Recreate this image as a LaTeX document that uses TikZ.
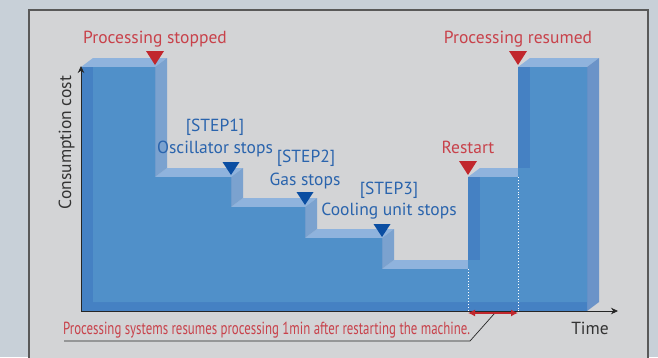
\documentclass[tikz,border=0pt]{standalone}
\usepackage{fontspec}
\usepackage{graphicx}
\setmainfont{PT Sans}
\usetikzlibrary{arrows.meta}
\definecolor{pagebg}{HTML}{C8D0D8}
\definecolor{panelbg}{HTML}{D3D4D6}
\definecolor{frontdark}{HTML}{4581C3}
\definecolor{frontlight}{HTML}{5090C9}
\definecolor{topcol}{HTML}{8FB3DD}
\definecolor{sidecol}{HTML}{7BA2CF}
\definecolor{endcol}{HTML}{6B93C8}
\definecolor{redmk}{HTML}{C1272D}
\definecolor{redtxt}{HTML}{C8424B}
\definecolor{bluemk}{HTML}{0B4EA2}
\definecolor{bluetxt}{HTML}{2A64AD}
\definecolor{darktxt}{HTML}{333333}
\tikzset{
  lbl/.style={font=\fontsize{17.5}{20}\selectfont, inner sep=0pt, anchor=base},
  redlbl/.style={lbl, text=redtxt},
  bluelbl/.style={lbl, text=bluetxt},
  topface/.style={fill=topcol},
  sideface/.style={fill=sidecol},
  axisline/.style={draw=black!85, line width=0.8pt, -{Stealth[length=7pt,width=6.5pt]}},
  redmark/.style={fill=redmk},
  bluemark/.style={fill=bluemk},
  guide/.style={draw=white, dotted, line width=0.9pt},
}
% staircase outline of the front face
\def\profile{(81,311) -- (81,67) -- (155,67) -- (155,177) -- (231,177) -- (231,207) -- (305,207) -- (305,238) -- (382,238) -- (382,269) -- (468,269) -- (468,177) -- (518,177) -- (518,67) -- (587,67) -- (587,311) -- cycle}
\begin{document}
\begin{tikzpicture}[x=1pt, y=-1pt]
  \useasboundingbox (0,0) rectangle (658,357);
  \fill[pagebg] (0,0) rectangle (658,357);
  \draw[fill=panelbg, draw=black!65, line width=1.2pt] (29,10) rectangle (648,370);

  % top faces of every level
  \foreach \a/\b/\y in {81/155/67, 155/231/177, 231/305/207, 305/382/238, 382/468/269, 468/518/177, 518/587/67}
    \fill[topface] (\a,\y) -- (\b,\y) -- ++(12,-9) -- (\a+12,\y-9) -- cycle;
  % right-facing risers
  \foreach \x/\yt/\yb in {155/67/177, 231/177/207, 305/207/238, 382/238/269}
    \fill[sideface] (\x,\yt) -- ++(12,-9) -- (\x+12,\yb-9) -- (\x,\yb) -- cycle;
  \fill[endcol] (587,67) -- (599,58) -- (599,302) -- (587,311) -- cycle;

  % translucent front face with the back face showing through
  \fill[frontdark] \profile;
  \begin{scope}
    \clip \profile;
    \fill[frontlight, shift={(12,-9)}] \profile;
  \end{scope}

  % guides for the restart interval
  \coordinate (rsA) at (468,269);
  \coordinate (rsB) at (468,311);
  \coordinate (rmA) at (518,177);
  \coordinate (rmB) at (518,311);
  \draw[guide] (rsA) -- (rsB);
  \draw[guide] (rmA) -- (rmB);

  % axes
  \coordinate (O) at (81,311);
  \coordinate (Ytop) at (81,66);
  \coordinate (Xend) at (618,311);
  \draw[axisline] (O) -- (Ytop);
  \draw[axisline] (O) -- (Xend);
  \node[lbl, text=darktxt, rotate=90, anchor=base] (ylab) at (71,142.5) {Consumption cost};
  \node[lbl, text=darktxt] (xlab) at (590,334) {Time};

  % interval arrow and its callout
  \coordinate (iA) at (468,313);
  \coordinate (iB) at (518,313);
  \draw[redmk, line width=2pt, {Latex[length=7pt,width=7pt]}-{Latex[length=7pt,width=7pt]}] (iA) -- (iB);
  \coordinate (cA) at (494,314);
  \coordinate (cB) at (470,341);
  \coordinate (cC) at (64,341);
  \draw[black!85, line width=0.7pt] (cA) -- (cB) -- (cC);
  \node[lbl, text=redtxt, anchor=base west] (note) at (63,334)
    {\resizebox{407pt}{\height}{Processing systems resumes processing 1min after restarting the machine.}};

  % markers
  \fill[redmark] (155,65) -- ++(-9,-14) -- ++(18,0) -- cycle;
  \fill[redmark] (518,65) -- ++(-9,-14) -- ++(18,0) -- cycle;
  \fill[redmark] (468,175) -- ++(-9,-14) -- ++(18,0) -- cycle;
  \fill[bluemark] (231,175) -- ++(-8.5,-13) -- ++(17,0) -- cycle;
  \fill[bluemark] (305,205) -- ++(-8.5,-13) -- ++(17,0) -- cycle;
  \fill[bluemark] (382,237) -- ++(-8.5,-13) -- ++(17,0) -- cycle;

  % labels
  \node[redlbl] (stopped) at (155,43) {Processing stopped};
  \node[redlbl] (resumed) at (518,43) {Processing resumed};
  \node[redlbl] (restart) at (468,153) {Restart};
  \node[bluelbl] (s1) at (215,131) {[STEP1]};
  \node[bluelbl] (s1t) at (215,153) {Oscillator stops};
  \node[bluelbl] (s2) at (306,162) {[STEP2]};
  \node[bluelbl] (s2t) at (305,185) {Gas stops};
  \node[bluelbl] (s3) at (389,194) {[STEP3]};
  \node[bluelbl] (s3t) at (389,215) {Cooling unit stops};
\end{tikzpicture}
\end{document}
